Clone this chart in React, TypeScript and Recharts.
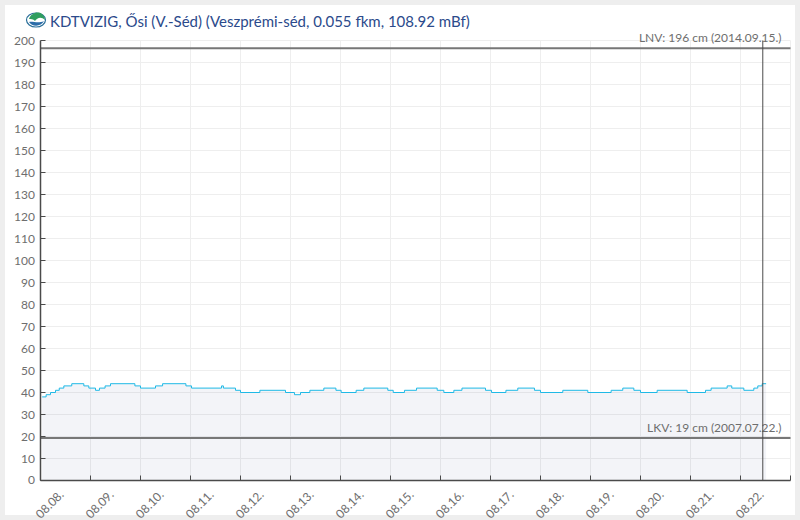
import React from 'react';
import { ComposedChart, Area, XAxis, YAxis, CartesianGrid, ReferenceLine } from 'recharts';

const TITLE = 'KDTVIZIG, Ősi (V.-Séd) (Veszprémi-séd, 0.055 fkm, 108.92 mBf)';
const dayLabels = ['08.08.', '08.09.', '08.10.', '08.11.', '08.12.', '08.13.', '08.14.', '08.15.', '08.16.', '08.17.', '08.18.', '08.19.', '08.20.', '08.21.', '08.22.', ''];
const xTicks = [0, 24, 48, 72, 96, 120, 144, 168, 192, 216, 240, 264, 288, 312, 336, 360];
const yTicks = [0, 10, 20, 30, 40, 50, 60, 70, 80, 90, 100, 110, 120, 130, 140, 150, 160, 170, 180, 190, 200];

const stepHours = [0.8, 2.7, 4.8, 7.2, 9, 11.2, 15, 20.8, 23.2, 26.4, 28.3, 31, 33.6, 45.3, 48, 55.2, 58.6, 69.8, 72.5, 86.9, 87.8, 93.6, 96, 105.3, 117.6, 121.9, 124.8, 129.3, 136, 141.8, 144.3, 151.5, 155.2, 166.7, 169.3, 174.7, 180.5, 190.4, 193.6, 198.4, 202.3, 213.6, 216.5, 223.4, 229.1, 237.1, 240, 250.7, 262.7, 273.9, 279.5, 284.8, 288, 296, 310.4, 319.2, 321.9, 329.6, 331.8, 337.6, 342.4, 344.3, 346.4, 348.3];
const stepLevels = [38, 39, 40, 41, 42, 43, 44, 43, 42, 41, 42, 43, 44, 43, 42, 43, 44, 43, 42, 43, 42, 41, 40, 41, 40, 39, 40, 41, 42, 41, 40, 41, 42, 41, 40, 41, 42, 41, 40, 41, 42, 41, 40, 41, 42, 41, 40, 41, 40, 41, 42, 41, 40, 41, 40, 41, 42, 43, 42, 41, 42, 43, 44, 44];
const chartData = stepHours.map((hour, i) => ({ hour, level: stepLevels[i] }));

const LNV = 196.5;
const LKV = 19.3;
const NOW_HOUR = 346.7;
const LNV_TEXT = 'LNV: 196 cm (2014.09.15.)';
const LKV_TEXT = 'LKV: 19 cm (2007.07.22.)';

const FONT = 'Lato, sans-serif';
const AXIS = '#4a4a4a';
const TEXT = '#6e6e6e';

const XTick = (props: any) => {
  const { x, y, index } = props;
  const label = dayLabels[index];
  return (
    <g>
      <line x1={x} x2={x} y1={y - 5} y2={y} stroke={AXIS} strokeWidth={1} />
      {label && (
        <text x={x + 24} y={y + 15} textAnchor="end" fontFamily={FONT} fontSize={12} fill={TEXT}
          transform={`rotate(-45 ${x + 24} ${y + 15})`}>{label}</text>
      )}
    </g>
  );
};

const YTick = (props: any) => {
  const { x, y, payload } = props;
  return (
    <g>
      <line x1={x} x2={x + 5} y1={y} y2={y} stroke={AXIS} strokeWidth={1} />
      <text x={x - 5.5} y={payload.value === 0 ? y + 3 : y + 4} textAnchor="end" fontFamily={FONT} fontSize={12} fill={TEXT}>{payload.value}</text>
    </g>
  );
};

const RefLabel = (text: string) => (props: any) => {
  const { viewBox } = props;
  return (
    <text x={viewBox.x + viewBox.width - 9} y={viewBox.y - 6} textAnchor="end" fontFamily={FONT} fontSize={12} fill={TEXT}>{text}</text>
  );
};

const Logo = () => (
  <svg width={22} height={18} viewBox="0 0 22 18" style={{ position: 'absolute', left: 24.5, top: 10.5 }}>
    <ellipse cx={11} cy={9} rx={9.5} ry={7} fill="#ffffff" stroke="#2a6f9a" strokeWidth={1.2} />
    <path d="M4 8 C6 2 13 0 17 3 C19 5 20 7 20 9 C16 5 12 7 10 10 C8 8 6 8 4 8 Z" fill="#2f9e5f" />
    <path d="M4 11 C8 10 13 13 19 10 C16 16 7 16 4 11 Z" fill="#2b6ca8" />
  </svg>
);

export default function App() {
  return (
    <div style={{ position: 'fixed', left: 0, top: 0, width: 800, height: 520, background: '#eeeeee', overflow: 'hidden' }}>
      <div style={{ position: 'absolute', left: 5, top: 5, width: 790, height: 510, background: '#ffffff' }} />
      <Logo />
      <div style={{ position: 'absolute', left: 50, top: 12, fontFamily: FONT, fontSize: 15, lineHeight: '18px', color: '#2b4a8b', whiteSpace: 'nowrap' }}>{TITLE}</div>
      <div style={{ position: 'absolute', left: 0, top: 0 }}>
        <ComposedChart width={800} height={520} data={chartData} margin={{ top: 40.5, right: 9.5, left: 0, bottom: 0 }}>
          <CartesianGrid stroke="#eeeeee" strokeWidth={1} horizontalValues={yTicks} verticalValues={xTicks} />
          <XAxis dataKey="hour" type="number" domain={[0, 360]} ticks={xTicks} interval={0} height={39.5}
            stroke={AXIS} strokeWidth={1.5} tickLine={false} tickSize={0} tickMargin={0} tick={<XTick />} allowDataOverflow />
          <YAxis type="number" domain={[0, 200]} ticks={yTicks} interval={0} width={40.5}
            stroke={AXIS} strokeWidth={1.5} tickLine={false} tickSize={0} tickMargin={0} tick={<YTick />} />
          <Area dataKey="level" type="stepAfter" stroke="#1fb9e6" strokeWidth={1} fill="#0a2a78" fillOpacity={0.05} isAnimationActive={false} dot={false} activeDot={false} />
          <ReferenceLine y={LNV} stroke="#777777" strokeWidth={2} label={RefLabel(LNV_TEXT)} />
          <ReferenceLine y={LKV} stroke="#777777" strokeWidth={2} label={RefLabel(LKV_TEXT)} />
          <ReferenceLine x={NOW_HOUR} stroke={AXIS} strokeWidth={1} />
        </ComposedChart>
      </div>
    </div>
  );
}
